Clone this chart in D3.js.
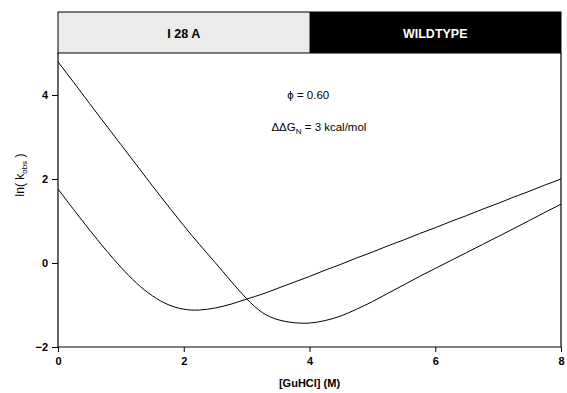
<!DOCTYPE html>
<html>
<head>
<meta charset="utf-8">
<script src="https://cdn.jsdelivr.net/npm/d3@7"></script>
<style>
  html, body { margin: 0; padding: 0; background: #fff; }
  svg { display: block; font-family: "Liberation Sans", Arial, Helvetica, sans-serif; }
</style>
</head>
<body>
<svg id="chart" width="567" height="393"></svg>
<script>
// Denaturant concentrations (M)
const guhcl = [0, 0.25, 0.5, 0.75, 1, 1.25, 1.5, 1.75, 2, 2.25, 2.5, 2.75, 3, 3.25, 3.5, 3.75,
               4, 4.25, 4.5, 4.75, 5, 5.25, 5.5, 5.75, 6, 6.25, 6.5, 6.75, 7, 7.25, 7.5, 7.75, 8];

// ln(k_obs) for the wildtype protein
const wildtype = [4.79, 4.30, 3.80, 3.31, 2.82, 2.33, 1.84, 1.36, 0.89, 0.44, 0.01, -0.43, -0.85,
                  -1.18, -1.35, -1.42, -1.43, -1.37, -1.26, -1.10, -0.92, -0.72, -0.52, -0.32,
                  -0.13, 0.06, 0.25, 0.44, 0.63, 0.82, 1.015, 1.21, 1.40];

// ln(k_obs) for the I28A mutant
const i28a = [1.76, 1.27, 0.79, 0.33, -0.10, -0.48, -0.78, -0.99, -1.10, -1.12, -1.07, -0.98,
              -0.86, -0.74, -0.60, -0.46, -0.32, -0.17, -0.03, 0.12, 0.26, 0.41, 0.55, 0.70,
              0.84, 0.99, 1.13, 1.28, 1.42, 1.57, 1.71, 1.86, 2.00];

const xTicks = [0, 2, 4, 6, 8];
const yTicks = [-2, 0, 2, 4];
const panels = [
  { label: "I 28 A", from: 0, to: 4, fill: "#ebebeb", text: "#000" },
  { label: "WILDTYPE", from: 4, to: 8, fill: "#000", text: "#fff" }
];

const svg = d3.select("#chart");
const m = { left: 58, right: 561, top: 53, bottom: 347 };

const x = d3.scaleLinear().domain([0, 8]).range([m.left, m.right]);
const y = d3.scaleLinear().domain([-2, 5]).range([m.bottom, m.top]);

// Header band naming the two proteins
const bandTop = 12;
svg.selectAll("rect.panel").data(panels).join("rect")
  .attr("class", "panel")
  .attr("x", d => x(d.from)).attr("y", bandTop)
  .attr("width", d => x(d.to) - x(d.from)).attr("height", m.top - bandTop)
  .attr("fill", d => d.fill);
svg.append("rect")
  .attr("x", m.left).attr("y", bandTop)
  .attr("width", m.right - m.left).attr("height", m.top - bandTop)
  .attr("fill", "none").attr("stroke", "#000").attr("stroke-width", 1);
svg.selectAll("text.panel").data(panels).join("text")
  .attr("class", "panel")
  .attr("x", d => (x(d.from) + x(d.to)) / 2).attr("y", 38)
  .attr("text-anchor", "middle")
  .attr("font-size", 12.5).attr("font-weight", "bold")
  .attr("fill", d => d.text)
  .text(d => d.label);

// Right-hand frame line
svg.append("line")
  .attr("x1", m.right).attr("x2", m.right)
  .attr("y1", m.top).attr("y2", m.bottom)
  .attr("stroke", "#000").attr("stroke-width", 1.2);

// Axes
const xAxis = svg.append("g")
  .attr("transform", `translate(0,${m.bottom})`)
  .call(d3.axisBottom(x).tickValues(xTicks).tickSize(5).tickPadding(5).tickFormat(d3.format("d")));
const yAxis = svg.append("g")
  .attr("transform", `translate(${m.left},0)`)
  .call(d3.axisLeft(y).tickValues(yTicks).tickSize(6).tickPadding(4)
    .tickFormat(d => d < 0 ? "\u2212" + Math.abs(d) : String(d)));

[xAxis, yAxis].forEach(g => {
  g.select(".domain").attr("stroke", "#000").attr("stroke-width", 1.2);
  g.selectAll(".tick line").attr("stroke", "#000").attr("stroke-width", 1);
  g.selectAll(".tick text")
    .attr("font-family", "Liberation Sans, Arial, sans-serif")
    .attr("font-size", 11).attr("font-weight", "bold").attr("fill", "#000");
});
// Domain paths without end caps so the frame stays a clean box
xAxis.select(".domain").attr("d", `M${m.left},0H${m.right}`);
yAxis.select(".domain").attr("d", `M0,${m.bottom}V${m.top}`);

// Axis titles
svg.append("text")
  .attr("x", x(4)).attr("y", 387)
  .attr("text-anchor", "middle")
  .attr("font-size", 11).attr("font-weight", "bold")
  .text("[GuHCl] (M)");

const yl = svg.append("text")
  .attr("transform", `translate(24,175) rotate(-90)`)
  .attr("text-anchor", "middle")
  .attr("font-size", 12);
yl.append("tspan").text("ln( k");
yl.append("tspan").attr("font-size", 8).attr("dy", 3).text("obs");
yl.append("tspan").attr("dy", -3).text(" )");

// Chevron curves
const clipId = "plot-clip";
svg.append("clipPath").attr("id", clipId).append("rect")
  .attr("x", m.left).attr("y", m.top)
  .attr("width", m.right - m.left).attr("height", m.bottom - m.top);

const line = d3.line()
  .x((d, i) => x(guhcl[i]))
  .y(d => y(d))
  .curve(d3.curveNatural);

svg.append("g").attr("clip-path", `url(#${clipId})`)
  .selectAll("path.curve").data([wildtype, i28a]).join("path")
  .attr("class", "curve")
  .attr("d", line)
  .attr("fill", "none")
  .attr("stroke", "#000")
  .attr("stroke-width", 1);

// Annotations
svg.append("text")
  .attr("x", x(3.98)).attr("y", 99)
  .attr("text-anchor", "middle").attr("font-size", 11.5)
  .text("\u03D5 = 0.60");

const dd = svg.append("text")
  .attr("x", x(4.15)).attr("y", 131)
  .attr("text-anchor", "middle").attr("font-size", 11.5);
dd.append("tspan").text("\u0394\u0394G");
dd.append("tspan").attr("font-size", 8).attr("dy", 3).text("N");
dd.append("tspan").attr("dy", -3).text(" = 3 kcal/mol");
</script>
</body>
</html>
